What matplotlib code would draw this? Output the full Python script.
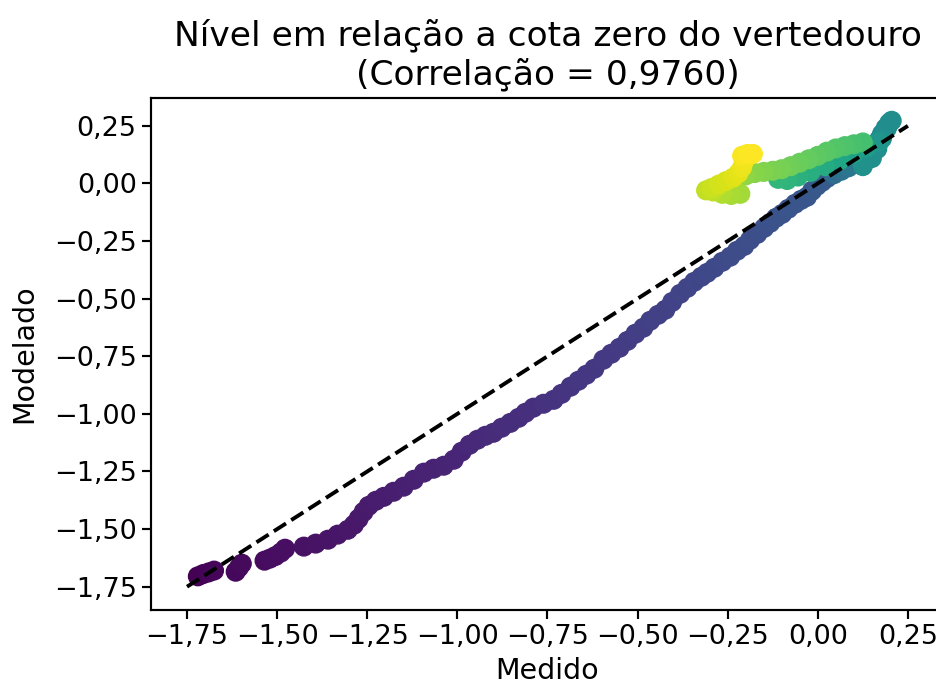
import matplotlib
matplotlib.use("Agg")
import matplotlib.pyplot as plt
from matplotlib.ticker import FuncFormatter, MultipleLocator

# Nível medido x modelado (m, em relação à cota zero do vertedouro),
# em ordem cronológica; "tempo" é a posição normalizada de cada amostra no período.
medido = [
    -1.720, -1.705, -1.690, -1.675,
    -1.615, -1.606, -1.598,
    -1.535, -1.520, -1.505, -1.490, -1.478,
    -1.426, -1.393, -1.359, -1.332, -1.304, -1.287, -1.274, -1.260, -1.246, -1.226,
    -1.204, -1.177, -1.149, -1.121, -1.093, -1.066, -1.038, -1.010, -0.988, -0.966,
    -0.944, -0.922, -0.900, -0.877, -0.853, -0.830, -0.811, -0.789, -0.761, -0.733,
    -0.711, -0.686, -0.664, -0.642, -0.620, -0.595, -0.573, -0.550, -0.528, -0.506,
    -0.484, -0.465, -0.443, -0.423, -0.404, -0.382, -0.362, -0.343, -0.323, -0.307,
    -0.287, -0.265, -0.243, -0.224, -0.204, -0.188, -0.168, -0.149, -0.132, -0.116,
    -0.099, -0.082, -0.063, -0.046, -0.030, -0.016, -0.002, 0.012, 0.026,
    0.045, 0.065, 0.085, 0.100, 0.115, 0.130, 0.145, 0.160, 0.170, 0.178, 0.188, 0.198, 0.205,
    0.192, 0.178, 0.165, 0.150, 0.125,
    0.170, 0.135, 0.100, 0.060, 0.020, -0.020, -0.055, -0.085, -0.110,
    0.125, 0.100, 0.075, 0.050, 0.025, 0.000, -0.025, -0.050, -0.075, -0.100,
    -0.125, -0.150, -0.175, -0.200, -0.225, -0.250,
    -0.215, -0.240, -0.265,
    -0.290, -0.310, -0.295, -0.275, -0.255, -0.235, -0.220, -0.210, -0.205, -0.210,
    -0.195, -0.180,
]
modelado = [
    -1.705, -1.695, -1.688, -1.680,
    -1.685, -1.667, -1.650,
    -1.637, -1.628, -1.617, -1.602, -1.585,
    -1.576, -1.563, -1.546, -1.524, -1.503, -1.481, -1.455, -1.425, -1.399, -1.377,
    -1.360, -1.338, -1.316, -1.286, -1.255, -1.238, -1.225, -1.199, -1.164, -1.134,
    -1.112, -1.095, -1.082, -1.060, -1.039, -1.017, -0.995, -0.973, -0.956, -0.939,
    -0.913, -0.882, -0.856, -0.830, -0.804, -0.765, -0.739, -0.713, -0.683, -0.652,
    -0.626, -0.596, -0.570, -0.548, -0.514, -0.479, -0.453, -0.427, -0.405, -0.388,
    -0.366, -0.340, -0.318, -0.292, -0.271, -0.245, -0.219, -0.193, -0.171, -0.149,
    -0.132, -0.110, -0.088, -0.071, -0.058, -0.032, -0.010, 0.007, 0.024,
    0.040, 0.055, 0.070, 0.085, 0.100, 0.120, 0.140, 0.165, 0.190, 0.215, 0.240, 0.262, 0.272,
    0.240, 0.195, 0.150, 0.110, 0.075,
    0.180, 0.155, 0.130, 0.100, 0.075, 0.050, 0.030, 0.015, 0.020,
    0.178, 0.170, 0.162, 0.152, 0.138, 0.120, 0.105, 0.090, 0.075, 0.062,
    0.055, 0.050, 0.045, 0.035, 0.020, 0.005,
    -0.045, -0.050, -0.045,
    -0.035, -0.030, -0.020, -0.005, 0.010, 0.025, 0.045, 0.070, 0.095, 0.120,
    0.128, 0.128,
]
tempo = [
    0.000, 0.004, 0.008, 0.012,
    0.020, 0.023, 0.026,
    0.030, 0.032, 0.034, 0.036, 0.038,
    0.045, 0.048, 0.052, 0.055, 0.059, 0.062, 0.066, 0.069, 0.073, 0.076,
    0.080, 0.083, 0.087, 0.090, 0.094, 0.097, 0.101, 0.104, 0.108, 0.111,
    0.115, 0.118, 0.122, 0.125, 0.129, 0.132, 0.136, 0.139, 0.143, 0.146,
    0.150, 0.153, 0.157, 0.160, 0.164, 0.167, 0.171, 0.174, 0.178, 0.181,
    0.185, 0.188, 0.192, 0.195, 0.199, 0.202, 0.206, 0.209, 0.213, 0.216,
    0.220, 0.223, 0.227, 0.230, 0.234, 0.237, 0.241, 0.244, 0.248, 0.251,
    0.255, 0.258, 0.262, 0.265, 0.269, 0.272, 0.276, 0.280, 0.285,
    0.350, 0.370, 0.390, 0.400, 0.420, 0.430, 0.440, 0.450, 0.460, 0.470, 0.480, 0.490, 0.490,
    0.492, 0.494, 0.496, 0.498, 0.500,
    0.520, 0.550, 0.570, 0.590, 0.610, 0.630, 0.640, 0.650, 0.660,
    0.700, 0.710, 0.720, 0.730, 0.740, 0.750, 0.760, 0.770, 0.780, 0.790,
    0.800, 0.810, 0.820, 0.830, 0.840, 0.850,
    0.860, 0.870, 0.880,
    0.900, 0.910, 0.920, 0.930, 0.940, 0.950, 0.960, 0.970, 0.980, 0.990,
    0.995, 1.000,
]

linha_ideal = [-1.75, 0.25]
correlacao = "0,9760"


def formata(v, pos):
    if abs(v) < 1e-9:
        v = 0.0
    return f"{v:.2f}".replace(".", ",").replace("-", "\u2212")


fig = plt.figure(figsize=(9.36, 6.86), dpi=100)
ax = fig.add_axes([0.1613, 0.1108, 0.8472, 0.7464])

ax.scatter(medido, modelado, c=tempo, cmap="viridis", vmin=0, vmax=1, s=180)
ax.plot(linha_ideal, linha_ideal, color="black", linestyle="--", linewidth=2.8)

ax.set_xlim(-1.85, 0.35)
ax.set_ylim(-1.851, 0.371)
ax.xaxis.set_major_locator(MultipleLocator(0.25))
ax.yaxis.set_major_locator(MultipleLocator(0.25))
ax.xaxis.set_major_formatter(FuncFormatter(formata))
ax.yaxis.set_major_formatter(FuncFormatter(formata))

ax.tick_params(labelsize=19.5, length=6.8, width=1.56)
for sp in ax.spines.values():
    sp.set_linewidth(1.56)

ax.set_title(f"Nível em relação a cota zero do vertedouro\n(Correlação = {correlacao})",
             fontsize=24.8, pad=10)
ax.set_xlabel("Medido", fontsize=20.5, labelpad=5)
ax.set_ylabel("Modelado", fontsize=20.5, labelpad=11)

fig.savefig("out.png", dpi=100)
